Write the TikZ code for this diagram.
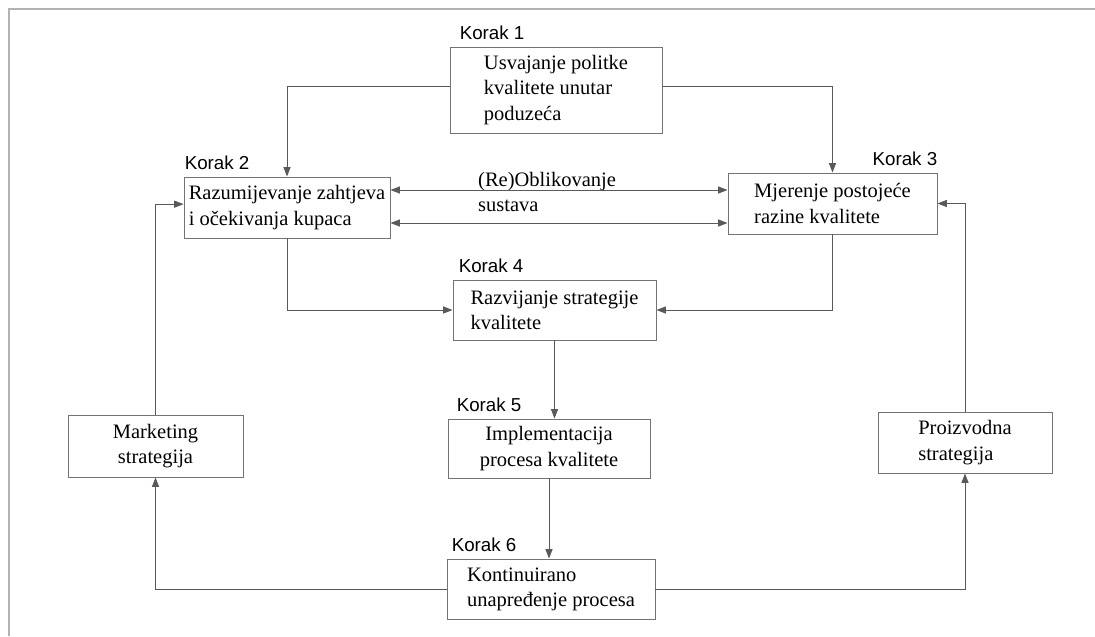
\documentclass[tikz,border=0pt]{standalone}
\usepackage{fontspec}
\setmainfont{Liberation Serif}
\newfontfamily\korakfont{Liberation Sans}
\usetikzlibrary{arrows.meta, positioning}
\tikzset{
  strelica/.style={-{Triangle[length=8pt, width=6pt]}, draw=black!65,
                   line width=0.8pt},
  dvostrelica/.style={{Triangle[length=8pt, width=6pt]}-{Triangle[length=8pt, width=6pt]},
                      draw=black!65, line width=0.8pt}
}

\begin{document}
\begin{tikzpicture}[x=0.03cm, y=-0.03cm,
  kutija/.style={rectangle, draw=black!55, line width=0.8pt, fill=white,
                 align=left, inner sep=2pt,
                 font=\fontsize{17.5}{21.5}\selectfont},
  sredina/.style={kutija, align=center},
  korak/.style={font=\korakfont\fontsize{16}{18}\selectfont, inner sep=0pt},
  natpis/.style={font=\fontsize{17.5}{21.5}\selectfont, align=left,
                 inner sep=0pt}
]
  \useasboundingbox (0,0) rectangle (1095,636);
  % ── okvir slike ──
  \draw[black!30, line width=1pt] (9,636) -- (9,9) -- (1095,9);

  % ── koraci ──
  \node[kutija, minimum width=6.36cm, minimum height=2.58cm] (k1) at (556,90)
        {Usvajanje politke\\kvalitete unutar\\poduzeća};
  \node[kutija, minimum width=6.18cm, minimum height=1.83cm] (k2) at (287,207.5)
        {Razumijevanje zahtjeva\\i očekivanja kupaca};
  \node[kutija, minimum width=6.27cm, minimum height=1.83cm] (k3) at (832.5,203.5)
        {Mjerenje postojeće\\razine kvalitete};
  \node[kutija, minimum width=6.09cm, minimum height=1.8cm]  (k4) at (554.5,310)
        {Razvijanje strategije\\kvalitete};
  \node[sredina, minimum width=6.06cm, minimum height=1.77cm] (k5) at (549,448.5)
        {Implementacija\\procesa kvalitete};
  \node[kutija, minimum width=6.24cm, minimum height=1.8cm]  (k6) at (551,589)
        {Kontinuirano\\unapređenje procesa};
  \node[sredina, minimum width=5.25cm, minimum height=1.86cm] (mark) at (155.5,446)
        {Marketing\\strategija};
  \node[kutija, minimum width=5.22cm, minimum height=1.83cm] (proiz) at (965,442.5)
        {Proizvodna\\strategija};

  % ── oznake koraka ──
  \node[korak, above right=0.2cm and 0.3cm of k1.north west]  (kor1) {Korak 1};
  \node[korak, above right=0.2cm and 0.03cm of k2.north west] (kor2) {Korak 2};
  \node[korak, above left=0.2cm and 0cm of k3.north east]     (kor3) {Korak 3};
  \node[korak, above right=0.2cm and 0.18cm of k4.north west] (kor4) {Korak 4};
  \node[korak, above right=0.2cm and 0.27cm of k5.north west] (kor5) {Korak 5};
  \node[korak, above right=0.2cm and 0.15cm of k6.north west] (kor6) {Korak 6};

  \node[natpis, anchor=north west] (oblik) at (478,172) {(Re)Oblikovanje\\sustava};

  % ── strelice ──
  \draw[strelica] ([yshift=0.12cm]k1.west) -| (k2.north);
  \draw[strelica] ([yshift=0.12cm]k1.east) -| (k3.north);
  \draw[dvostrelica] (k2.east |- 0,190) -- (k3.west |- 0,190);
  \draw[dvostrelica] (k2.east |- 0,223) -- (k3.west |- 0,223);
  \draw[strelica] (k2.south) |- (k4.west);
  \draw[strelica] (k3.south) |- (k4.east);
  \draw[strelica] (k4.south) -- (k4.south |- k5.north);
  \draw[strelica] (k5.south) -- (k5.south |- k6.north);
  \draw[strelica] (k6.west) -| (mark.south);
  \draw[strelica] (k6.east) -| (proiz.south);
  \draw[strelica] (mark.north) |- ([yshift=0.1cm]k2.west);
  \draw[strelica] (proiz.north) |- (k3.east);
\end{tikzpicture}
\end{document}
